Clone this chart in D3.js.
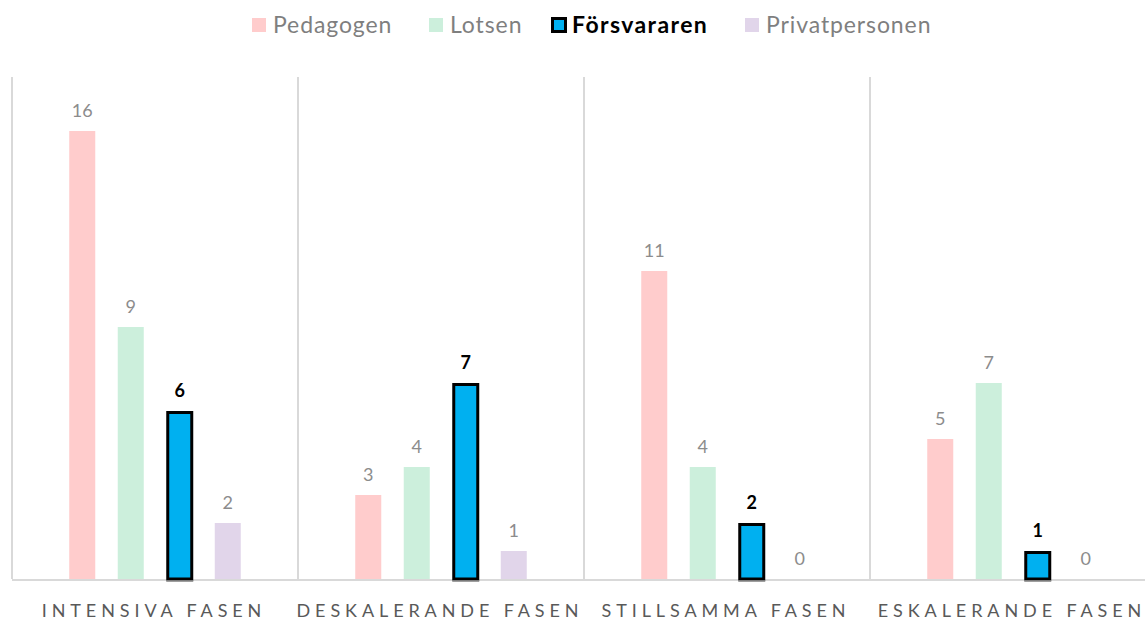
<!DOCTYPE html>
<html><head><meta charset="utf-8">
<script src="https://cdn.jsdelivr.net/npm/d3@7"></script>
<style>
body{margin:0;background:#fff;}
svg{display:block;}
text{font-family:Lato, "Open Sans", sans-serif;}
</style></head>
<body><svg id="c" width="1145" height="621"></svg>
<script>
const categories = ["INTENSIVA FASEN","DESKALERANDE FASEN","STILLSAMMA FASEN","ESKALERANDE FASEN"];
const seriesNames = ["Pedagogen","Lotsen","Försvararen","Privatpersonen"];
const pedagogen = [16,3,11,5];
const lotsen = [9,4,4,7];
const forsvararen = [6,7,2,1];
const privatpersonen = [2,1,0,0];
const seriesColors = ["#ffcccc","#ccefdc","#00b0f0","#e1d5ea"];
const highlighted = "Försvararen";

(function(){
const values = [pedagogen, lotsen, forsvararen, privatpersonen];
const svg = d3.select("#c");
const left = 12, catW = 286, topY = 75, base = 579;

const x0 = d3.scaleBand().domain(categories).range([left, left + catW*categories.length]).paddingInner(0).paddingOuter(0);
const x1 = d3.scaleBand().domain(seriesNames).range([46, 240]).paddingInner(0.46).paddingOuter(0.23);
const y = d3.scaleLinear().domain([0,18]).range([base, topY]);

svg.append("g").selectAll("line").data(categories).join("line")
  .attr("x1", d => x0(d)).attr("x2", d => x0(d))
  .attr("y1", y(18)+2).attr("y2", base)
  .attr("stroke", "#d9d9d9").attr("stroke-width", 2);

svg.append("line").attr("x1", left).attr("x2", 1145).attr("y1", base+1).attr("y2", base+1)
  .attr("stroke", "#d9d9d9").attr("stroke-width", 2);

const rows = [];
categories.forEach((c, ci) => seriesNames.forEach((s, si) => rows.push({c, s, si, v: values[si][ci]})));

const bw = 26;
const g = svg.append("g");
rows.forEach(d => {
  const cx = x0(d.c) + x1(d.s) + x1.bandwidth()/2;
  const hl = d.s === highlighted;
  if (d.v > 0) {
    if (hl) {
      g.append("rect").attr("x", cx - bw/2 + 1.5).attr("y", y(d.v) + 1.5)
        .attr("width", bw - 2).attr("height", y(0) - y(d.v) - 1.5)
        .attr("fill", seriesColors[d.si]).attr("stroke", "#000").attr("stroke-width", 3);
      g.append("line").attr("x1", cx - bw/2).attr("x2", cx + bw/2 + 1).attr("y1", base+2).attr("y2", base+2)
        .attr("stroke", "#7f7f7f").attr("stroke-width", 1.5);
    } else {
      g.append("rect").attr("x", cx - bw/2).attr("y", y(d.v))
        .attr("width", bw).attr("height", y(0) - y(d.v))
        .attr("fill", seriesColors[d.si]);
    }
  }
  g.append("text").attr("x", cx + (hl ? 0.5 : 0)).attr("y", y(d.v) - 14)
    .attr("text-anchor", "middle")
    .attr("font-size", 18)
    .attr("font-weight", hl ? 700 : 400)
    .attr("fill", hl ? "#000" : "#8c8c8c")
    .text(d.v);
});

svg.append("g").selectAll("text").data(categories).join("text")
  .attr("x", d => x0(d) + catW/2 - 1).attr("y", 617)
  .attr("text-anchor", "middle")
  .attr("font-size", 18).attr("letter-spacing", "4.9px")
  .attr("fill", "#595959")
  .text(d => d);

const legendX = [252, 429, 551, 745];
const lg = svg.append("g");
seriesNames.forEach((s, i) => {
  const hl = s === highlighted;
  if (hl) {
    lg.append("rect").attr("x", legendX[i] + 1.5).attr("y", 18.5).attr("width", 13).attr("height", 13)
      .attr("fill", seriesColors[i]).attr("stroke", "#000").attr("stroke-width", 3);
  } else {
    lg.append("rect").attr("x", legendX[i]).attr("y", 18).attr("width", 14).attr("height", 14)
      .attr("fill", seriesColors[i]);
  }
  lg.append("text").attr("x", legendX[i] + 21).attr("y", 33)
    .attr("font-size", 23).attr("font-weight", hl ? 700 : 400)
    .attr("letter-spacing", hl ? "1.4px" : "0.9px")
    .attr("fill", hl ? "#000" : "#7f7f7f")
    .text(s);
});
})();
</script></body></html>
